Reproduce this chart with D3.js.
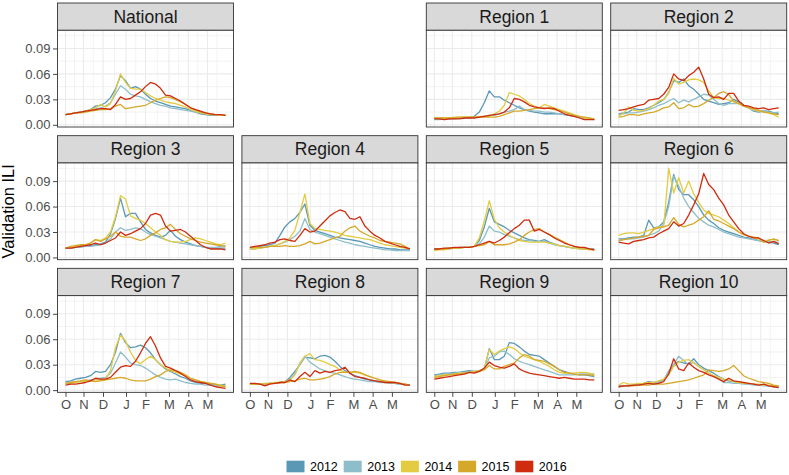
<!DOCTYPE html>
<html lang='en'>
<head>
  <meta charset='UTF-8'>
  <title>Validation ILI</title>
  <style>
    body { margin: 0; background: #fff; }
    svg text { font-family: 'Liberation Sans', Arial, Helvetica, sans-serif; }
  </style>
</head>
<body>
<div id='chart'></div>
<script src='https://d3js.org/d3.v7.min.js'></script>
<script>
  // seasons and their colours
  var seasons = ['2012', '2013', '2014', '2015', '2016']
  var seasonColors = ['#5b98b5', '#8fbecb', '#e3cc42', '#d6a82a', '#cf2b0e']

  // month tick labels, positioned on the week index (0 = first October week)
  var monthLabels = ['O', 'N', 'D', 'J', 'F', 'M', 'A', 'M']
  var monthWeeks = [0, 3.6, 7.5, 12.1, 16.0, 20.7, 24.55, 28.4]
  var yTicks = [0, 0.03, 0.06, 0.09]

  var regions = ['National', 'Region 1', 'Region 2', 'Region 3', 'Region 4', 'Region 5',
    'Region 6', 'Region 7', 'Region 8', 'Region 9', 'Region 10']

  // weekly values in percent, one row per season (2012 .. 2016)
  var iliNational = [
    [1.2,1.3,1.4,1.5,1.6,1.8,2.2,2.3,2.6,3.2,4.2,5.8,5.2,4.3,4.5,4.2,3.6,3.1,2.8,2.6,2.4,2.2,2.1,2.0,1.9,1.7,1.5,1.3,1.2,1.1,1.1,1.1,1.1],
    [1.2,1.3,1.4,1.5,1.6,1.7,1.9,2.0,2.2,2.6,3.6,4.6,4.2,3.6,3.4,3.3,3.0,2.7,2.5,2.3,2.2,2.0,1.9,1.8,1.7,1.6,1.5,1.4,1.3,1.2,1.1,1.1,1.1],
    [1.2,1.3,1.4,1.5,1.6,1.8,2.0,2.4,2.1,2.5,4.0,6.0,5.0,4.3,4.2,4.2,3.8,3.4,3.1,2.9,2.7,2.6,2.5,2.3,2.1,1.8,1.6,1.4,1.3,1.2,1.2,1.1,1.1],
    [1.2,1.3,1.4,1.4,1.5,1.6,1.7,1.8,1.8,1.9,2.2,2.4,1.9,2.0,2.1,2.2,2.3,2.6,2.9,3.1,3.3,3.2,3.0,2.7,2.4,2.0,1.8,1.5,1.4,1.3,1.2,1.2,1.1],
    [1.2,1.3,1.4,1.5,1.6,1.7,1.8,1.9,1.9,1.8,2.4,3.3,3.0,3.1,3.5,3.9,4.5,5.0,4.8,4.3,3.5,3.4,3.1,2.8,2.4,2.0,1.8,1.6,1.4,1.3,1.2,1.2,1.1]
  ]
  var iliRegion1 = [
    [0.7,0.7,0.7,0.7,0.8,0.8,0.8,0.9,1.0,1.5,2.6,4.0,3.3,3.3,2.9,2.6,2.3,2.0,1.8,1.6,1.5,1.4,1.3,1.3,1.3,1.3,1.2,1.1,1.0,0.9,0.8,0.7,0.6],
    [0.6,0.6,0.7,0.7,0.7,0.8,0.8,0.8,0.9,0.9,1.0,1.1,1.1,1.3,1.5,1.6,1.8,2.2,1.8,1.7,1.6,1.6,1.5,1.5,1.4,1.3,1.2,1.1,1.0,0.9,0.8,0.7,0.7],
    [0.8,0.8,0.8,0.8,0.9,0.9,0.9,0.9,0.9,1.0,1.0,1.0,1.3,1.6,2.3,3.8,3.6,3.4,3.0,2.5,2.2,2.0,2.4,2.2,2.0,1.8,1.6,1.4,1.2,1.0,0.8,0.7,0.7],
    [0.8,0.8,0.8,0.8,0.8,0.9,0.9,0.9,0.9,0.9,0.9,0.9,0.9,1.0,1.2,1.4,1.6,1.6,1.7,1.8,1.9,2.0,2.0,1.9,1.8,1.7,1.5,1.3,1.1,1.0,0.9,0.8,0.7],
    [0.7,0.7,0.6,0.7,0.7,0.7,0.8,0.8,0.8,0.9,1.0,1.1,1.2,1.3,1.5,2.0,3.1,3.0,2.7,2.3,2.1,2.0,1.9,2.0,1.9,1.6,1.3,1.1,1.0,0.8,0.6,0.6,0.6]
  ]
  var iliRegion2 = [
    [1.3,1.4,1.5,1.9,1.8,1.8,2.0,2.3,2.6,3.0,3.8,5.2,5.0,5.4,4.6,4.2,3.6,3.0,2.8,2.6,2.4,2.5,2.6,3.0,2.7,2.3,2.0,1.6,1.5,1.6,1.6,1.4,1.3],
    [1.2,1.3,1.4,1.4,1.5,1.6,1.8,2.0,2.3,2.5,2.8,3.1,2.6,2.9,2.7,3.0,3.3,3.6,3.5,3.0,2.5,2.3,2.5,2.5,2.5,2.2,2.0,1.7,1.6,1.7,1.5,1.4,1.5],
    [1.0,1.4,2.1,1.7,1.6,1.7,1.9,2.3,2.8,3.0,3.7,5.5,4.8,5.0,5.3,5.4,5.3,5.0,4.0,3.2,3.1,3.1,2.9,2.7,2.5,2.3,2.0,1.8,1.6,1.5,1.4,1.2,0.9],
    [0.9,1.0,1.2,1.2,1.1,1.3,1.4,1.5,1.7,2.0,2.1,2.6,1.9,2.0,2.4,2.1,2.2,2.5,2.9,3.2,3.7,3.9,3.6,2.8,2.5,2.2,2.0,1.9,1.7,1.5,1.4,1.3,1.2],
    [1.7,1.8,1.9,2.1,2.3,2.4,2.9,3.0,3.1,3.6,4.4,6.0,5.4,5.2,5.8,6.2,6.8,5.4,3.6,3.2,3.3,3.0,3.7,3.7,2.8,2.3,2.2,2.0,1.9,2.0,1.8,1.9,2.0]
  ]
  var iliRegion3 = [
    [1.1,1.1,1.2,1.3,1.3,1.4,1.5,1.6,1.8,2.8,4.6,7.0,4.8,5.2,5.2,4.2,3.3,2.9,2.6,2.4,2.6,3.2,2.5,2.1,1.8,1.6,1.4,1.3,1.2,1.1,1.1,1.1,1.1],
    [1.1,1.1,1.2,1.2,1.3,1.3,1.4,1.5,1.7,2.2,3.0,3.5,3.2,3.3,3.5,3.4,3.0,2.7,2.5,2.3,2.1,1.9,1.8,1.7,1.6,1.5,1.4,1.3,1.2,1.2,1.2,1.3,1.4],
    [1.1,1.2,1.3,1.4,1.5,1.7,2.1,2.0,2.3,3.0,4.8,7.3,6.9,4.9,4.6,4.4,4.0,3.5,3.0,2.6,2.1,1.9,1.8,1.8,1.9,2.1,2.3,2.2,2.0,1.8,1.6,1.5,1.7],
    [1.1,1.3,1.4,1.5,1.5,1.7,2.1,1.9,2.2,2.5,3.0,2.5,2.4,2.4,2.2,2.0,2.2,2.6,2.9,3.3,3.5,3.9,3.3,2.8,2.5,2.2,2.0,1.8,1.7,1.6,1.5,1.4,1.3],
    [1.1,1.1,1.2,1.3,1.4,1.5,1.7,1.5,1.7,2.0,2.3,3.0,2.6,2.8,3.1,3.4,4.0,5.0,5.2,5.0,3.7,3.1,3.2,3.3,3.0,2.5,2.0,1.5,1.2,1.0,1.0,1.0,0.9]
  ]
  var iliRegion4 = [
    [1.1,1.2,1.3,1.4,1.5,1.7,2.6,3.6,4.2,4.6,5.3,6.3,3.8,3.2,3.0,2.8,2.6,2.4,2.3,2.2,2.1,2.0,1.9,1.7,1.5,1.3,1.2,1.1,1.0,1.0,0.9,0.9,0.9],
    [1.0,1.0,1.1,1.2,1.3,1.4,1.6,1.8,2.1,2.5,3.1,4.6,3.3,3.0,2.8,2.6,2.4,2.2,2.0,1.8,1.7,1.5,1.4,1.3,1.2,1.1,1.0,0.9,0.9,0.8,0.8,0.8,0.8],
    [1.0,1.0,1.1,1.2,1.3,1.4,1.6,1.9,2.3,3.2,5.3,7.5,4.0,3.4,3.3,3.2,3.1,3.0,2.8,2.6,2.5,2.4,2.3,2.2,2.1,1.9,1.7,1.5,1.4,1.3,1.2,1.1,1.0],
    [1.2,1.2,1.2,1.2,1.3,1.3,1.3,1.4,1.3,1.3,1.4,1.6,1.9,1.6,1.7,1.9,2.1,2.3,2.5,3.1,3.5,3.7,3.1,2.8,2.5,2.3,2.0,1.9,1.8,1.7,1.6,1.3,1.0],
    [1.2,1.3,1.4,1.5,1.7,1.8,2.1,2.2,2.0,1.9,2.6,3.4,3.0,3.1,3.7,4.3,4.9,5.3,5.6,5.4,4.6,4.5,4.8,3.7,3.1,2.6,2.3,1.9,1.7,1.5,1.3,1.2,1.0]
  ]
  var iliRegion5 = [
    [1.0,1.0,1.0,1.1,1.1,1.2,1.2,1.2,1.3,2.0,3.6,5.8,4.2,3.9,3.6,3.2,2.9,2.6,2.3,2.1,2.0,1.9,2.1,1.8,1.6,1.4,1.3,1.2,1.1,1.1,1.0,1.0,1.0],
    [0.9,1.0,1.0,1.0,1.1,1.1,1.2,1.2,1.3,1.6,2.4,3.7,3.1,3.0,2.7,2.5,2.3,2.1,2.0,2.0,1.9,1.9,1.9,1.7,1.5,1.4,1.3,1.2,1.1,1.0,1.0,1.0,0.9],
    [0.8,0.9,0.9,1.0,1.1,1.1,1.2,1.2,1.3,2.3,4.3,6.7,4.5,3.5,3.0,2.6,2.3,2.0,1.9,1.8,1.8,1.8,1.8,1.7,1.6,1.4,1.3,1.2,1.1,1.0,1.0,0.9,0.9],
    [1.0,1.0,1.0,1.1,1.1,1.1,1.2,1.2,1.3,1.4,1.5,1.9,1.5,1.5,1.5,1.6,1.8,2.1,2.6,3.0,3.3,3.4,3.0,2.7,2.4,2.1,1.8,1.5,1.3,1.2,1.1,1.0,0.9],
    [1.0,1.0,1.1,1.1,1.2,1.2,1.2,1.2,1.3,1.5,1.7,1.9,1.7,2.0,2.4,2.9,3.4,3.8,4.4,4.4,3.1,3.3,3.0,2.7,2.3,2.0,1.7,1.5,1.3,1.2,1.2,1.0,0.9]
  ]
  var iliRegion6 = [
    [2.2,2.2,2.3,2.4,2.4,2.6,4.4,3.5,3.6,4.2,6.5,9.8,8.0,7.4,7.4,6.8,6.0,5.0,4.4,4.0,3.5,3.2,3.0,2.8,2.6,2.4,2.3,2.1,2.0,1.9,1.8,1.7,1.5],
    [2.0,2.1,2.2,2.2,2.3,2.4,2.6,2.8,3.1,4.0,6.0,9.6,8.4,7.0,6.0,5.3,4.6,4.2,3.8,3.6,3.3,3.0,2.8,2.6,2.4,2.3,2.2,2.1,2.0,1.9,1.9,1.8,1.8],
    [2.6,2.8,2.9,2.9,2.8,3.0,3.2,3.4,3.6,3.6,10.5,7.6,9.4,7.6,9.0,7.5,6.5,5.6,5.2,5.0,4.8,4.4,4.0,3.5,3.0,2.7,2.5,2.3,2.2,1.8,2.1,2.1,2.0],
    [2.0,2.1,2.2,2.3,2.4,2.5,2.6,3.3,3.5,3.6,3.8,4.7,3.9,3.6,3.8,4.0,4.4,4.8,5.5,4.5,4.3,4.0,3.7,3.4,3.0,2.7,2.5,2.4,2.3,1.8,2.0,2.2,2.0],
    [1.8,1.7,1.6,1.9,2.0,2.1,2.3,2.4,2.8,3.1,3.4,4.2,3.7,4.0,5.0,6.2,7.5,9.9,8.6,8.0,7.0,6.2,5.0,4.2,3.4,2.8,2.5,2.3,2.3,2.0,1.7,1.9,1.6]
  ]
  var iliRegion7 = [
    [1.0,1.1,1.3,1.4,1.5,1.7,2.2,2.1,2.2,3.0,4.5,6.7,5.6,5.0,5.1,5.3,5.0,4.4,3.6,3.0,2.5,2.2,1.9,1.6,1.4,1.1,0.9,0.8,0.8,0.7,0.6,0.6,0.7],
    [0.8,0.9,1.0,1.0,1.1,1.2,1.3,1.4,1.5,2.0,3.2,4.5,3.9,3.2,3.0,2.9,2.6,2.2,1.8,1.5,1.3,1.2,1.3,1.1,0.9,0.8,0.7,0.7,0.6,0.6,0.5,0.5,0.5],
    [0.8,0.8,0.9,1.0,1.0,1.1,1.2,1.2,1.3,2.3,5.0,6.5,5.8,4.5,3.5,3.1,3.6,4.0,3.6,3.0,2.6,2.3,2.1,1.9,1.7,1.4,1.2,1.0,0.9,0.8,0.7,0.6,0.5],
    [0.8,0.9,1.0,1.1,1.2,1.1,1.0,1.1,1.2,1.3,1.4,1.5,1.4,1.2,1.1,1.1,1.1,1.3,1.6,1.8,2.2,2.4,2.3,2.1,1.8,1.4,1.2,1.0,0.9,0.8,0.7,0.5,0.4],
    [0.6,0.7,0.7,0.8,0.9,1.1,1.4,1.3,1.3,1.5,2.1,2.7,2.9,2.8,3.4,4.4,5.5,6.3,5.2,3.8,2.8,2.6,2.3,2.0,1.6,1.2,1.0,0.9,0.8,0.6,0.4,0.3,0.2]
  ]
  var iliRegion8 = [
    [0.7,0.7,0.7,0.7,0.8,0.8,0.9,1.0,1.5,2.2,3.0,3.9,3.8,3.7,4.0,4.1,3.9,3.4,2.8,2.3,2.0,1.7,1.5,1.3,1.2,1.1,1.0,1.0,0.9,0.8,0.7,0.7,0.6],
    [0.7,0.7,0.7,0.7,0.8,0.8,0.9,1.0,1.3,1.9,3.2,4.0,3.3,2.9,2.5,2.3,2.1,2.0,1.8,1.6,1.4,1.3,1.2,1.1,1.0,1.0,0.9,0.9,0.8,0.8,0.7,0.7,0.6],
    [0.7,0.7,0.7,0.8,0.8,0.9,0.9,1.0,1.2,1.8,3.1,4.0,4.3,3.6,3.5,3.3,3.0,2.8,2.4,2.1,2.1,2.1,2.0,1.8,1.6,1.4,1.2,1.0,0.9,0.9,0.8,0.7,0.6],
    [0.7,0.7,0.7,0.7,0.8,0.8,0.9,0.9,1.0,1.1,1.3,1.4,1.2,1.2,1.3,1.4,1.6,1.9,2.1,2.1,2.1,2.2,2.1,1.8,1.6,1.4,1.2,1.1,1.0,0.9,0.8,0.7,0.6],
    [0.8,0.8,0.7,0.5,0.7,0.8,0.9,0.9,1.2,1.0,1.6,2.1,1.6,2.3,2.0,2.2,2.1,2.3,2.4,2.7,2.0,1.6,1.5,1.4,1.2,1.1,1.0,0.9,0.9,0.9,0.8,0.6,0.6]
  ]
  var iliRegion9 = [
    [1.8,1.9,2.0,2.0,2.1,2.1,2.2,2.3,2.2,2.3,2.5,4.9,3.6,3.6,4.0,5.6,5.5,5.1,4.6,4.2,4.1,4.0,3.6,3.2,2.8,2.4,2.2,2.0,1.9,1.8,1.8,1.7,1.6],
    [1.7,1.8,1.9,1.9,2.0,2.1,2.1,2.2,2.2,2.3,2.5,3.8,4.0,4.5,4.6,4.2,3.7,3.4,3.2,3.0,2.8,2.6,2.4,2.2,2.0,1.8,1.8,1.8,1.8,1.9,1.9,1.9,1.9],
    [1.6,1.7,1.8,1.8,1.9,2.0,2.0,2.1,2.2,2.3,2.5,4.8,4.2,4.6,4.9,5.1,4.9,4.4,4.0,3.8,3.6,3.4,3.1,2.8,2.4,2.1,2.0,2.0,2.0,2.1,2.1,2.0,1.8],
    [1.5,1.6,1.7,1.8,1.9,1.9,2.0,2.1,2.1,2.2,2.4,2.9,2.5,2.5,2.8,3.0,3.2,3.8,4.2,4.0,3.6,3.5,3.4,3.1,2.8,2.4,2.1,2.0,1.9,1.8,1.8,1.8,1.7],
    [1.3,1.4,1.5,1.6,1.7,1.8,1.9,2.1,2.0,2.2,2.6,3.3,2.9,2.7,2.6,2.8,3.1,2.5,2.2,2.0,1.9,1.8,1.7,1.6,1.5,1.4,1.5,1.4,1.3,1.3,1.3,1.2,1.2]
  ]
  var iliRegion10 = [
    [0.5,0.5,0.6,0.6,0.7,0.8,1.0,0.9,1.0,1.2,2.0,3.0,3.4,3.2,3.1,3.7,3.0,2.6,2.3,2.0,1.6,1.3,1.1,1.0,0.9,0.8,0.7,0.7,0.6,0.6,0.5,0.5,0.4],
    [0.4,0.5,0.5,0.6,0.6,0.7,0.8,0.8,0.9,1.2,2.3,3.0,4.0,3.5,3.0,3.3,2.8,2.4,2.0,1.7,1.4,0.9,0.9,0.8,0.8,0.7,0.7,0.6,0.6,0.5,0.5,0.4,0.4],
    [0.6,0.9,0.7,0.7,0.8,0.8,0.9,0.9,1.1,1.3,1.8,2.8,3.3,3.5,3.6,3.2,2.8,2.4,2.0,1.7,1.5,1.3,1.2,1.0,0.9,0.8,0.8,0.7,0.7,0.6,0.6,0.5,0.5],
    [0.4,0.5,0.5,0.5,0.6,0.6,0.6,0.7,0.7,0.7,0.8,0.9,1.0,1.1,1.2,1.4,1.6,1.8,2.4,2.3,2.2,2.3,2.5,2.9,2.3,1.7,1.4,1.2,1.0,0.9,0.8,0.6,0.5],
    [0.4,0.5,0.5,0.6,0.6,0.7,0.8,0.7,0.8,1.0,1.9,3.7,2.5,2.3,3.2,2.7,2.3,2.1,1.8,1.6,1.3,1.0,1.4,1.1,1.0,0.9,0.8,0.7,0.6,0.7,0.5,0.4,0.3]
  ]
  var regionData = [iliNational, iliRegion1, iliRegion2, iliRegion3, iliRegion4, iliRegion5,
    iliRegion6, iliRegion7, iliRegion8, iliRegion9, iliRegion10]

  // layout (grid slot of each facet: row * 4 + col, slot 1 stays empty)
  var facetSlots = [0, 2, 3, 4, 5, 6, 7, 8, 9, 10, 11]
  var width = 789, height = 475
  var left0 = 57.5, colStep = 184.4, panelW = 176
  var top0 = 3, rowStep = 132.67, stripH = 27.3, panelH = 96.7

  var svg = d3.select('#chart').append('svg')
    .attr('width', width).attr('height', height)

  var x = d3.scaleLinear().domain([-1.6, 33.6]).range([0, panelW])
  var y = d3.scaleLinear().domain([-0.0026, 0.1114]).range([panelH, 0])

  // minor breaks as ggplot does: midpoints, extended one step past the ends
  var minorOf = function (b, dom) {
    var ext = b.slice()
    if (dom[0] < b[0]) ext.unshift(b[0] - (b[1] - b[0]))
    var n = b.length
    if (dom[1] > b[n - 1]) ext.push(b[n - 1] + (b[n - 1] - b[n - 2]))
    return d3.pairs(ext, function (a, c) { return (a + c) / 2 })
      .filter(function (v) { return v > dom[0] && v < dom[1] })
  }
  var xMinor = minorOf(monthWeeks, x.domain())
  var yMinor = minorOf(yTicks, y.domain())

  var line = d3.line()
    .x(function (d, i) { return x(i) })
    .y(function (d) { return y(d / 100) })

  regions.forEach(function (name, k) {
    var slot = facetSlots[k]
    var row = Math.floor(slot / 4), col = slot % 4
    var px = left0 + col * colStep
    var sy = top0 + row * rowStep
    var py = sy + stripH

    // strip
    var strip = svg.append('g').attr('transform', 'translate(' + px + ',' + sy + ')')
    strip.append('rect').attr('width', panelW).attr('height', stripH)
      .attr('fill', '#d9d9d9').attr('stroke', '#333').attr('stroke-width', 0.9)
    strip.append('text').attr('x', panelW / 2).attr('y', stripH / 2 + 6)
      .attr('text-anchor', 'middle').attr('font-size', 17.5).attr('fill', '#1a1a1a')
      .text(name)

    var g = svg.append('g').attr('transform', 'translate(' + px + ',' + py + ')')
    g.append('rect').attr('width', panelW).attr('height', panelH).attr('fill', '#fff')

    // grid
    g.selectAll('.vmin').data(xMinor).enter().append('line')
      .attr('x1', x).attr('x2', x).attr('y1', 0).attr('y2', panelH)
      .attr('stroke', '#ebebeb').attr('stroke-width', 0.6)
    g.selectAll('.hmin').data(yMinor).enter().append('line')
      .attr('y1', y).attr('y2', y).attr('x1', 0).attr('x2', panelW)
      .attr('stroke', '#ebebeb').attr('stroke-width', 0.6)
    g.selectAll('.vmaj').data(monthWeeks).enter().append('line')
      .attr('x1', x).attr('x2', x).attr('y1', 0).attr('y2', panelH)
      .attr('stroke', '#ebebeb').attr('stroke-width', 1.1)
    g.selectAll('.hmaj').data(yTicks).enter().append('line')
      .attr('y1', y).attr('y2', y).attr('x1', 0).attr('x2', panelW)
      .attr('stroke', '#ebebeb').attr('stroke-width', 1.1)

    // season lines, 2012 drawn first so 2016 ends on top
    regionData[k].forEach(function (series, s) {
      g.append('path').datum(series)
        .attr('d', line)
        .attr('fill', 'none')
        .attr('stroke', seasonColors[s])
        .attr('stroke-width', 1.3)
        .attr('stroke-linejoin', 'round')
    })

    g.append('rect').attr('width', panelW).attr('height', panelH)
      .attr('fill', 'none').attr('stroke', '#333').attr('stroke-width', 0.9)

    // axes: y on the first column, x on the bottom row
    if (col === 0) {
      var ya = g.append('g').call(d3.axisLeft(y).tickValues(yTicks)
        .tickFormat(d3.format('.2f')).tickSize(4.5).tickPadding(2.5))
      ya.select('.domain').remove()
      ya.selectAll('line').attr('stroke', '#333').attr('stroke-width', 0.9)
      ya.selectAll('text').attr('font-size', 13).attr('fill', '#4d4d4d')
        .style('font-family', "'Liberation Sans', Arial, sans-serif")
    }
    if (row === 2) {
      var xa = g.append('g').attr('transform', 'translate(0,' + panelH + ')')
        .call(d3.axisBottom(x).tickValues(monthWeeks)
          .tickFormat(function (d, i) { return monthLabels[i] }).tickSize(4.5).tickPadding(2.5))
      xa.select('.domain').remove()
      xa.selectAll('line').attr('stroke', '#333').attr('stroke-width', 0.9)
      xa.selectAll('text').attr('font-size', 13).attr('fill', '#4d4d4d')
        .style('font-family', "'Liberation Sans', Arial, sans-serif")
    }
  })

  // y axis title
  svg.append('text')
    .attr('transform', 'translate(13.5,' + (top0 + stripH + (2 * rowStep + panelH) / 2) + ') rotate(-90)')
    .attr('text-anchor', 'middle').attr('font-size', 16.5).attr('fill', '#000')
    .text('Validation ILI')

  // legend
  var legend = svg.append('g').attr('transform', 'translate(286.5,460.7)')
  seasons.forEach(function (s, i) {
    var item = legend.append('g').attr('transform', 'translate(' + (i * 57.2) + ',0)')
    item.append('rect').attr('width', 18).attr('height', 11.6).attr('fill', seasonColors[i])
    item.append('text').attr('x', 23.5).attr('y', 10.3)
      .attr('font-size', 12.5).attr('fill', '#000').text(s)
  })
</script>
</body>
</html>
